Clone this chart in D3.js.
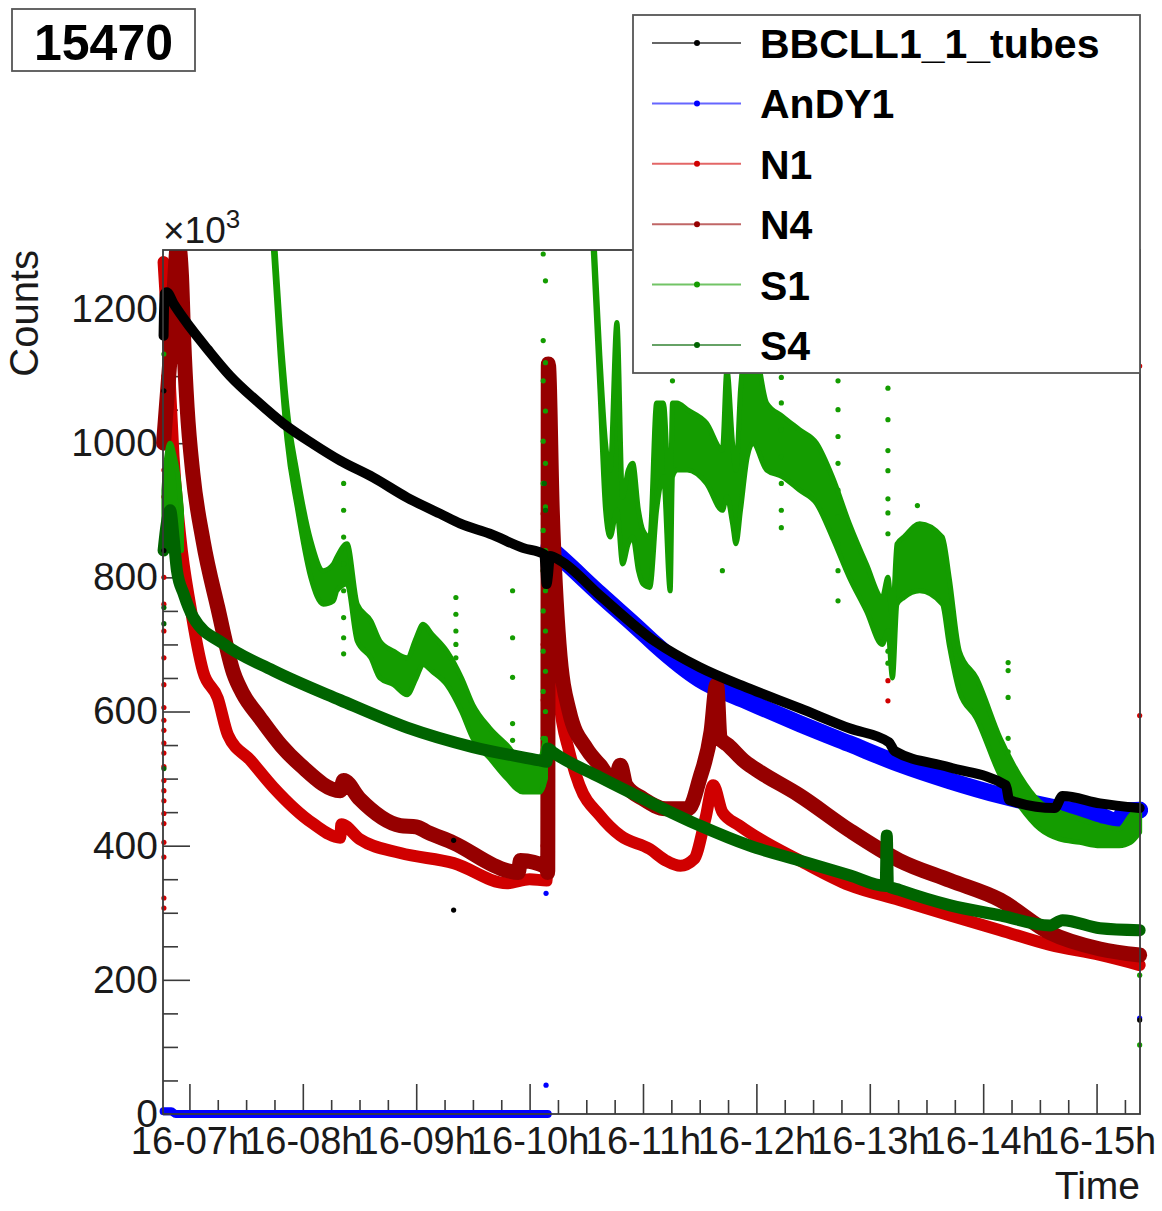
<!DOCTYPE html>
<html>
<head>
<meta charset="utf-8">
<script src="https://cdn.jsdelivr.net/npm/d3@7"></script>
<style>
  body { margin: 0; background: #fff; }
  svg { display: block; font-family: "Liberation Sans", Arial, Helvetica, sans-serif; }
</style>
</head>
<body>
<svg id="chart"></svg>
<script>
// run number in the corner box
const runLabel = "15470";

const seriesNames = ["BBCLL1_1_tubes", "AnDY1", "N1", "N4", "S1", "S4"];
const seriesColors = ["#000000", "#0000ff", "#d00000", "#960000", "#149c00", "#006400"];

const hourTicks = [7, 8, 9, 10, 11, 12, 13, 14, 15];
const countTicks = [0, 200, 400, 600, 800, 1000, 1200];

// time = hour of day 16, counts in units of 10^3
const bbcTime   = [6.772, 6.78, 6.80, 6.86, 7.01, 7.16, 7.36, 7.60, 7.83, 8.09, 8.33, 8.62, 8.92, 9.21, 9.39, 9.65, 9.94, 10.13, 10.15, 10.16, 10.18, 10.27, 10.62, 11.11, 11.50, 11.94, 12.38, 12.82, 13.17, 13.22, 13.70, 14.20, 14.23, 14.63, 14.70, 15.03, 15.38];
const bbcCounts = [1160, 1222, 1225, 1208, 1172, 1140, 1100, 1062, 1029, 999, 974, 949, 919, 895, 880, 865, 844, 834, 790, 800, 832, 825, 773, 704, 666, 634, 605, 575, 554, 541, 517, 490, 468, 456, 474, 463, 456];

const andyIdleTime   = [6.772, 6.84, 6.88, 10.16];
const andyIdleCounts = [4, 4, 0, 0];
const andyTime   = [10.17, 10.27, 10.62, 10.97, 11.11, 11.50, 11.94, 12.38, 12.82, 13.26, 13.70, 14.15, 14.59, 15.03, 15.19, 15.25, 15.38];
const andyCounts = [845, 830, 775, 722, 700, 648, 614, 582, 552, 522, 497, 475, 458, 445, 436, 452, 453];

const n1Time   = [6.772, 6.79, 6.81, 6.83, 6.86, 6.92, 7.01, 7.12, 7.25, 7.34, 7.54, 7.74, 8.09, 8.33, 8.34, 8.50, 8.86, 9.33, 9.80, 10.00, 10.15, 10.165, 10.20, 10.26, 10.35, 10.44, 10.62, 10.80, 11.06, 11.20, 11.33, 11.45, 11.55, 11.62, 11.70, 11.85, 12.03, 12.38, 12.82, 13.26, 13.71, 14.15, 14.59, 15.03, 15.38];
const n1Counts = [1270, 1220, 1160, 1080, 980, 860, 755, 660, 620, 565, 527, 487, 433, 412, 432, 410, 389, 374, 344, 350, 348, 900, 760, 620, 540, 490, 445, 415, 395, 378, 370, 380, 440, 490, 450, 430, 410, 378, 341, 319, 296, 274, 252, 237, 222];

const n4Time   = [6.772, 6.84, 6.90, 6.93, 6.95, 6.98, 7.03, 7.12, 7.25, 7.39, 7.47, 7.62, 7.81, 7.98, 8.33, 8.36, 8.50, 8.86, 9.00, 9.10, 9.33, 9.80, 9.90, 9.92, 10.15, 10.16, 10.165, 10.20, 10.26, 10.35, 10.50, 10.62, 10.75, 10.80, 10.85, 11.00, 11.20, 11.40, 11.50, 11.60, 11.65, 11.68, 11.75, 11.90, 12.03, 12.38, 12.82, 13.26, 13.71, 14.15, 14.59, 15.03, 15.38];
const n4Counts = [1000, 1150, 1300, 1250, 1153, 1053, 955, 855, 755, 657, 627, 591, 549, 520, 482, 497, 470, 430, 428, 420, 404, 363, 360, 378, 368, 360, 1118, 900, 700, 600, 545, 520, 495, 520, 490, 470, 455, 455, 500, 570, 640, 560, 550, 525, 510, 475, 423, 378, 348, 319, 270, 246, 237];

// S1 is noisy: lower / upper edge of the band, null = gap (off scale)
const s1Time = [6.775, 6.80, 6.83, 6.86, 6.90, 6.93, 7.0,
  7.74, 7.80, 7.86, 7.95, 8.07, 8.18, 8.27, 8.30, 8.39, 8.48, 8.60, 8.68, 8.80, 8.92, 9.00, 9.06, 9.14, 9.27, 9.40, 9.50, 9.65, 9.80, 9.94, 10.09, 10.14, 10.3,
  10.56, 10.62, 10.67, 10.71, 10.77, 10.82, 10.87, 10.91, 10.96, 11.00, 11.06, 11.12, 11.18, 11.24, 11.26, 11.30, 11.39, 11.56, 11.70, 11.74, 11.79, 11.82, 11.86, 11.92, 11.97, 12.09, 12.23, 12.38, 12.53, 12.67, 12.82, 12.97, 13.11, 13.16, 13.20, 13.24, 13.30, 13.44, 13.64, 13.70, 13.79, 13.94, 14.15, 14.32, 14.50, 14.67, 14.85, 15.03, 15.20, 15.30, 15.38];
const s1Low = [860, 870, 880, 870, 850, 840, null,
  1290, 1130, 1005, 905, 800, 760, 765, 780, 790, 705, 680, 650, 640, 625, 650, 670, 660, 640, 600, 560, 530, 500, 480, 480, 500, null,
  1290, 1080, 900, 860, 900, 820, 850, 860, 810, 790, 785, 900, 950, 780, 950, 960, 960, 940, 900, 920, 880, 850, 900, 980, 1000, 960, 950, 930, 910, 860, 800, 750, 700, 720, 650, 760, 770, 780, 760, 700, 630, 590, 505, 460, 425, 410, 405, 400, 400, 405, 420];
const s1High = [930, 980, 1000, 985, 950, 900, null,
  1330, 1175, 1055, 955, 855, 810, 820, 830, 850, 760, 735, 705, 690, 680, 710, 730, 715, 690, 650, 610, 575, 550, 525, 530, 560, null,
  1330, 1130, 1000, 960, 1180, 920, 960, 970, 900, 870, 860, 1060, 1060, 900, 1060, 1060, 1050, 1030, 990, 1110, 1000, 960, 1080, 1150, 1150, 1060, 1040, 1020, 1000, 950, 880, 820, 770, 800, 740, 850, 860, 880, 860, 800, 690, 650, 560, 505, 465, 450, 440, 430, 425, 445, 460];

const s4Time   = [6.772, 6.80, 6.83, 6.86, 6.89, 6.95, 7.035, 7.30, 7.74, 8.33, 8.92, 9.50, 10.09, 10.15, 10.16, 10.20, 10.62, 11.06, 11.50, 11.94, 12.38, 12.82, 13.14, 13.15, 13.16, 13.26, 13.71, 14.15, 14.59, 14.70, 15.03, 15.38];
const s4Counts = [840, 880, 900, 860, 810, 775, 740, 701, 661, 617, 576, 547, 527, 525, 545, 540, 502, 465, 430, 400, 378, 356, 340, 415, 340, 334, 311, 296, 281, 289, 277, 274];

// single stray readings [time, counts]
const bbcDots = [[6.775, 1078], [6.775, 840], [9.33, 304], [9.33, 408], [15.38, 140]];
const andyDots = [[10.145, 43], [10.145, 329], [15.38, 143]];
const n1Dots = [[6.775, 1100], [6.775, 1050], [6.775, 1000], [6.775, 960], [6.775, 920], [6.775, 880], [6.775, 850], [6.775, 800], [6.775, 760], [6.775, 720], [6.775, 680], [6.775, 640], [6.775, 606], [6.775, 587], [6.775, 572], [6.775, 553], [6.775, 538], [6.775, 518], [6.775, 497], [6.775, 482], [6.775, 467], [6.775, 448], [6.775, 433], [6.775, 405], [6.775, 383], [6.775, 322], [6.775, 307],
  [10.12, 895], [10.13, 860], [10.12, 810], [10.13, 760], [10.12, 700], [10.13, 650], [10.12, 617], [10.13, 560], [10.12, 500], [10.13, 450], [10.12, 400],
  [13.16, 646], [13.16, 616], [15.38, 594], [15.38, 1115]];
const n4Dots = [[6.775, 1180], [10.14, 980], [10.15, 1040]];
const s1Dots = [[6.775, 1133],
  [10.12, 1282], [10.14, 1242], [10.12, 1153], [10.14, 1120], [10.12, 1093], [10.14, 1048], [10.12, 1003], [10.14, 970], [10.12, 940], [10.14, 905], [10.12, 870], [10.14, 840], [10.12, 810], [10.14, 780], [10.12, 750], [10.14, 720], [10.12, 690], [10.14, 660], [10.12, 630], [10.14, 600], [10.12, 560], [10.14, 520], [10.12, 490],
  [8.36, 974], [8.36, 940], [8.36, 900], [8.36, 860], [8.36, 820], [8.36, 780], [8.36, 740], [8.36, 710], [8.36, 686],
  [9.35, 770], [9.35, 745], [9.35, 720], [9.35, 700], [9.35, 680],
  [9.85, 780], [9.85, 710], [9.85, 651], [9.85, 582], [9.85, 557],
  [11.26, 1093], [11.70, 810],
  [12.22, 1098], [12.22, 1060], [12.22, 1020], [12.22, 980], [12.22, 940], [12.22, 900], [12.22, 874],
  [12.72, 1093], [12.72, 1050], [12.72, 1010], [12.72, 970], [12.72, 930], [12.72, 890], [12.72, 850], [12.72, 810], [12.72, 765],
  [13.16, 1082], [13.16, 1035], [13.16, 989], [13.16, 959], [13.16, 917], [13.16, 896], [13.16, 865], [13.16, 690], [13.16, 672],
  [13.42, 907], [14.22, 673], [14.22, 661], [14.22, 621], [14.22, 560], [14.22, 540],
  [15.38, 207], [15.38, 103]];
const s4Dots = [[6.775, 755], [6.775, 731], [6.775, 515], [10.14, 900], [10.13, 940]];

const width = 1162, height = 1211;
const margin = {top: 250, right: 22, bottom: 97, left: 163};

const x = d3.scaleLinear()
  .domain([6.767, 15.383])
  .range([margin.left, width - margin.right]);

const y = d3.scaleLinear()
  .domain([0, 1288])
  .range([height - margin.bottom, margin.top]);

const svg = d3.select("#chart")
  .attr("width", width)
  .attr("height", height);

svg.append("rect").attr("width", width).attr("height", height).attr("fill", "#fff");

svg.append("defs").append("clipPath").attr("id", "plot-clip")
  .append("rect")
  .attr("x", margin.left - 8)
  .attr("y", margin.top)
  .attr("width", width - margin.left - margin.right + 16)
  .attr("height", height - margin.top - margin.bottom + 8);

const axisColor = "#3a3a3a";
const textColor = "#1a1a1a";
const fmtHour = h => `16-${h < 10 ? "0" + h : h}h`;

// axes (ticks point into the frame)
const minorHours = d3.range(7, 15.3, 0.25).filter(h => !Number.isInteger(h));
const minorCounts = d3.range(50, 1288, 50).filter(c => c % 200 !== 0);

function styleAxis(g) {
  g.select(".domain").remove();
  g.selectAll(".tick line").attr("stroke", axisColor).attr("stroke-width", 1.6);
  g.selectAll("text").attr("font-size", null).attr("fill", textColor);
  g.attr("font-family", null).attr("font-size", null);
}

svg.append("g")
  .attr("transform", `translate(0,${y(0)})`)
  .call(d3.axisBottom(x).tickValues(minorHours).tickSize(-14).tickFormat(""))
  .call(styleAxis);

svg.append("g")
  .attr("transform", `translate(0,${y(0)})`)
  .call(d3.axisBottom(x).tickValues(hourTicks).tickSize(-30).tickPadding(13).tickFormat(fmtHour))
  .call(styleAxis)
  .call(g => g.selectAll("text").attr("font-size", 38));

svg.append("g")
  .attr("transform", `translate(${margin.left},0)`)
  .call(d3.axisLeft(y).tickValues(minorCounts).tickSize(-15).tickFormat(""))
  .call(styleAxis);

svg.append("g")
  .attr("transform", `translate(${margin.left},0)`)
  .call(d3.axisLeft(y).tickValues(countTicks).tickSize(-27).tickPadding(5).tickFormat(d3.format("d")))
  .call(styleAxis)
  .call(g => g.selectAll("text").attr("font-size", 39));

// data
const plot = svg.append("g").attr("clip-path", "url(#plot-clip)");
const zip = (t, c) => t.map((d, i) => [d, c[i]]);

const line = d3.line()
  .defined(d => d[1] != null)
  .curve(d3.curveMonotoneX)
  .x(d => x(d[0]))
  .y(d => y(d[1]));

const area = d3.area()
  .defined(d => d.lo != null)
  .curve(d3.curveMonotoneX)
  .x(d => x(d.t))
  .y0(d => y(d.lo))
  .y1(d => y(d.hi));

function band(points, color, w) {
  plot.append("path")
    .datum(points)
    .attr("d", line)
    .attr("fill", "none")
    .attr("stroke", color)
    .attr("stroke-width", w)
    .attr("stroke-linejoin", "round")
    .attr("stroke-linecap", "round");
}

function dots(points, color) {
  plot.append("g")
    .selectAll("circle")
    .data(points)
    .join("circle")
    .attr("cx", d => x(d[0]))
    .attr("cy", d => y(d[1]))
    .attr("r", 2.6)
    .attr("fill", color);
}

band(zip(andyIdleTime, andyIdleCounts), seriesColors[1], 8);
band(zip(andyTime, andyCounts), seriesColors[1], 17);
dots(andyDots, seriesColors[1]);

band(zip(n1Time, n1Counts), seriesColors[2], 12);
dots(n1Dots, seriesColors[2]);

band(zip(n4Time, n4Counts), seriesColors[3], 15);
dots(n4Dots, seriesColors[3]);

const s1Points = s1Time.map((t, i) => ({t, lo: s1Low[i], hi: s1High[i]}));
plot.append("path")
  .datum(s1Points)
  .attr("d", area)
  .attr("fill", seriesColors[4])
  .attr("stroke", seriesColors[4])
  .attr("stroke-width", 5)
  .attr("stroke-linejoin", "round");
dots(s1Dots, seriesColors[4]);

band(zip(s4Time, s4Counts), seriesColors[5], 12);
dots(s4Dots, seriesColors[5]);

band(zip(bbcTime, bbcCounts), seriesColors[0], 10);
dots(bbcDots, seriesColors[0]);

// frame
svg.append("rect")
  .attr("x", margin.left)
  .attr("y", margin.top)
  .attr("width", width - margin.left - margin.right)
  .attr("height", height - margin.top - margin.bottom)
  .attr("fill", "none")
  .attr("stroke", axisColor)
  .attr("stroke-width", 1.8);

// axis titles
svg.append("text")
  .attr("x", margin.left)
  .attr("y", 243)
  .attr("font-size", 37)
  .attr("fill", textColor)
  .text("×10")
  .append("tspan")
  .attr("font-size", 26)
  .attr("dy", -15)
  .text("3");

svg.append("text")
  .attr("transform", `translate(38,${margin.top}) rotate(-90)`)
  .attr("text-anchor", "end")
  .attr("font-size", 40)
  .attr("fill", textColor)
  .text("Counts");

svg.append("text")
  .attr("x", width - margin.right)
  .attr("y", 1199)
  .attr("text-anchor", "end")
  .attr("font-size", 39)
  .attr("fill", textColor)
  .text("Time");

// legend
const legend = svg.append("g");
legend.append("rect")
  .attr("x", 633).attr("y", 15)
  .attr("width", 507).attr("height", 358)
  .attr("fill", "#fff")
  .attr("stroke", "#555")
  .attr("stroke-width", 1.8);

const rowY = d3.scalePoint().domain(seriesNames).range([43, 345]);

seriesNames.forEach((name, i) => {
  const cy = rowY(name);
  legend.append("line")
    .attr("x1", 652).attr("x2", 741)
    .attr("y1", cy).attr("y2", cy)
    .attr("stroke", seriesColors[i])
    .attr("stroke-opacity", 0.6)
    .attr("stroke-width", 2);
  legend.append("circle")
    .attr("cx", 697).attr("cy", cy).attr("r", 3)
    .attr("fill", seriesColors[i]);
  legend.append("text")
    .attr("x", 760).attr("y", cy + 15)
    .attr("font-size", 41)
    .attr("font-weight", "bold")
    .attr("fill", "#000")
    .text(name);
});

// run number box
svg.append("rect")
  .attr("x", 12).attr("y", 9)
  .attr("width", 183).attr("height", 62)
  .attr("fill", "#fff")
  .attr("stroke", "#555")
  .attr("stroke-width", 1.8);

svg.append("text")
  .attr("x", 103.5).attr("y", 60)
  .attr("text-anchor", "middle")
  .attr("font-size", 50)
  .attr("font-weight", "bold")
  .attr("fill", "#000")
  .text(runLabel);
</script>
</body>
</html>
